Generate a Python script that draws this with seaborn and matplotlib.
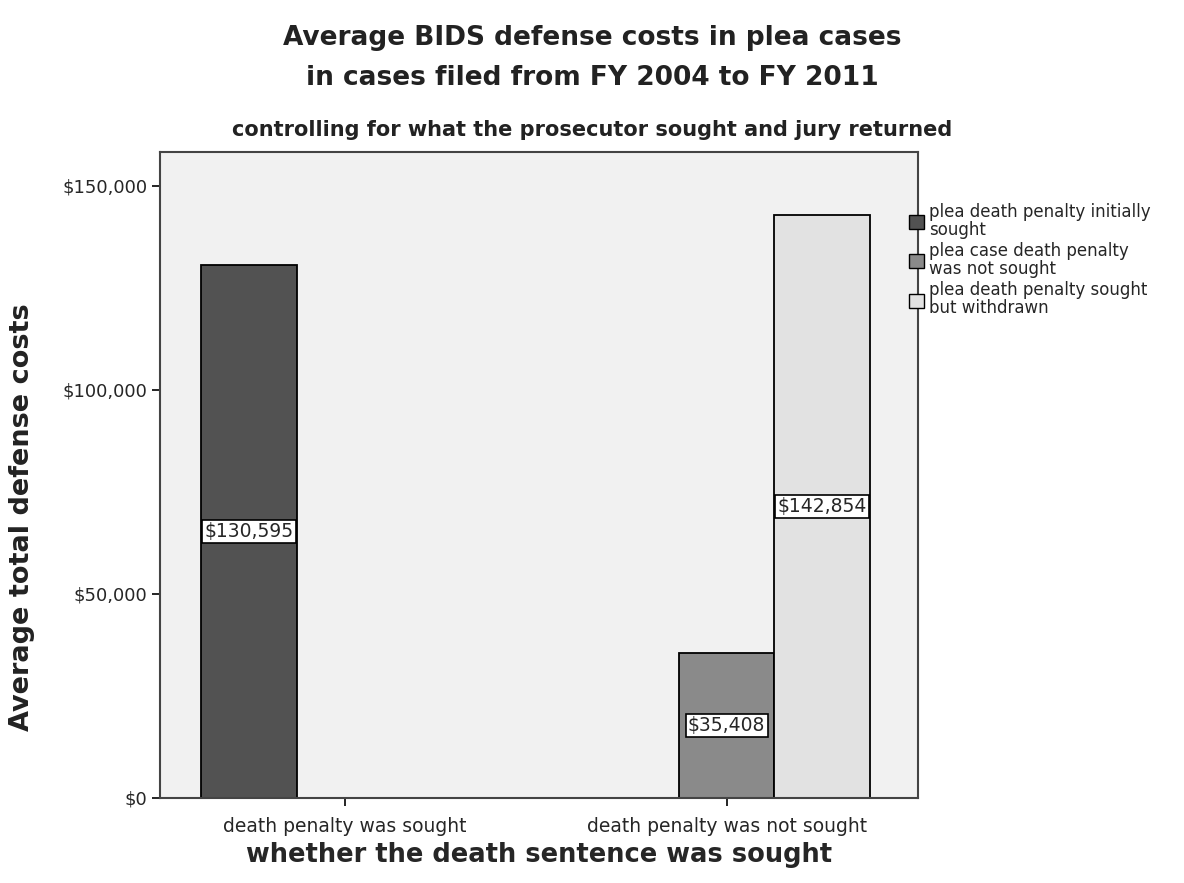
import matplotlib
matplotlib.use("Agg")
import matplotlib.pyplot as plt
import seaborn as sns
import pandas as pd
import numpy as np
from matplotlib.ticker import FuncFormatter
from matplotlib.patches import Patch

categories = ["death penalty was sought", "death penalty was not sought"]
series = ["plea death penalty initially\nsought",
          "plea case death penalty\nwas not sought",
          "plea death penalty sought\nbut withdrawn"]
initially_sought = [130595, np.nan]
not_sought = [np.nan, 35408]
withdrawn = [np.nan, 142854]
colors = ["#525252", "#8a8a8a", "#e2e2e2"]

rows = []
for name, vals in zip(series, [initially_sought, not_sought, withdrawn]):
    for cat, v in zip(categories, vals):
        rows.append({"group": cat, "kind": name, "cost": v})
df = pd.DataFrame(rows)

sns.set_style("white")
plt.rcParams["font.family"] = ["DejaVu Sans"]

fig = plt.figure(figsize=(11.84, 8.83), dpi=100)
ax = fig.add_axes([0.135, 0.0963, 0.640, 0.732])
ax.set_facecolor("#f1f1f1")

sns.barplot(data=df, x="group", y="cost", hue="kind", order=categories,
            hue_order=series, palette=colors, width=0.75, ax=ax,
            edgecolor="black", linewidth=1.3, errorbar=None, legend=False)

ax.set_xlim(-0.484, 1.5)
ax.set_ylim(0, 158300)
ax.set_yticks([0, 50000, 100000, 150000])
ax.yaxis.set_major_formatter(FuncFormatter(lambda v, p: f"${v:,.0f}"))
ax.tick_params(axis="both", which="both", length=6, width=1.2, color="black",
               direction="out", left=True, bottom=True)
ax.tick_params(axis="y", labelsize=13, pad=3)
ax.tick_params(axis="x", labelsize=13.5, pad=8)
for s in ax.spines.values():
    s.set_color("#444444")
    s.set_linewidth(1.5)

# value labels inside each drawn bar
for patch in ax.patches:
    h = patch.get_height()
    if np.isnan(h) or h == 0:
        continue
    cx = patch.get_x() + patch.get_width() / 2
    ax.text(cx, h / 2, f"${h:,.0f}", ha="center", va="center", fontsize=13.5,
            bbox=dict(boxstyle="square,pad=0.12", facecolor="white",
                      edgecolor="black", linewidth=1.2))

ax.set_xlabel("whether the death sentence was sought", fontsize=18.5,
              fontweight="bold", labelpad=4)
ax.set_ylabel("")
fig.text(22 / 1184, 1 - 517 / 883, "Average total defense costs", rotation=90,
         ha="center", va="center", fontsize=19.5, fontweight="bold",
         color="#222222")

handles = [Patch(facecolor=c, edgecolor="black", linewidth=1) for c in colors]
leg = fig.legend(handles, series, loc="upper left", bbox_to_anchor=(0.762, 0.778),
                 frameon=False, fontsize=12, handlelength=0.9, handleheight=0.9,
                 handletextpad=0.3, labelspacing=0.2, borderaxespad=0)
for t in leg.get_texts():
    t.set_linespacing(1.0)

fig.text(0.5, 0.957, "Average BIDS defense costs in plea cases", ha="center",
         va="center", fontsize=19, fontweight="bold", color="#222222")
fig.text(0.5, 0.912, "in cases filed from FY 2004 to FY 2011", ha="center",
         va="center", fontsize=19, fontweight="bold", color="#222222")
fig.text(0.5, 0.853, "controlling for what the prosecutor sought and jury returned",
         ha="center", va="center", fontsize=15, fontweight="bold", color="#222222")

fig.savefig("out.png", dpi=100)
